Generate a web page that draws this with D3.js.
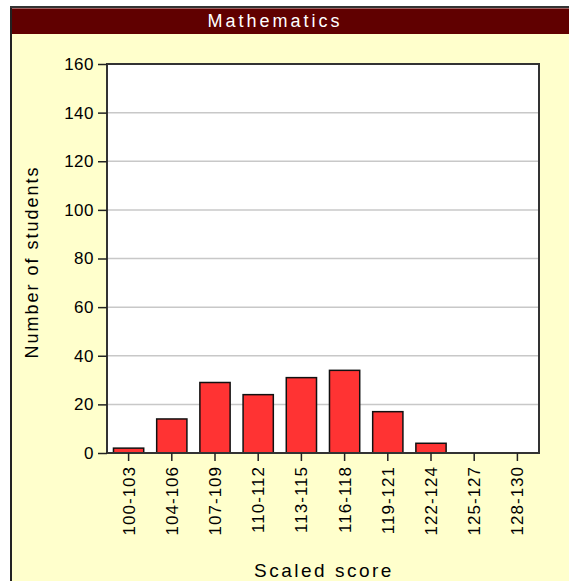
<!DOCTYPE html>
<html lang="en">
<head>
  <meta charset="UTF-8">
  <title>Mathematics</title>
  <script src="https://unpkg.com/d3@7/dist/d3.min.js"></script>
  <style>
    body { margin: 0; background: #fff; }
    text { font-family: "Liberation Sans", Arial, sans-serif; fill: #000; }
  </style>
</head>
<body>
  <svg id="chart" width="569" height="581"></svg>
  <script>
    const categories = ['100-103', '104-106', '107-109', '110-112', '113-115',
                        '116-118', '119-121', '122-124', '125-127', '128-130'];
    const counts = [2, 14, 29, 24, 31, 34, 17, 4, 0, 0];
    const yTicks = [0, 20, 40, 60, 80, 100, 120, 140, 160];

    const svg = d3.select('#chart');
    const width = +svg.attr('width'),
          height = +svg.attr('height');

    // panel background + frame
    svg.append('rect')
      .attr('x', 11).attr('y', 7)
      .attr('width', width - 11).attr('height', height - 7)
      .attr('fill', '#ffffcc');
    svg.append('line')
      .attr('x1', 11).attr('x2', 11).attr('y1', 6).attr('y2', height)
      .attr('stroke', '#222').attr('stroke-width', 2);
    svg.append('line')
      .attr('x1', 10).attr('x2', width).attr('y1', 7).attr('y2', 7)
      .attr('stroke', '#333').attr('stroke-width', 2);

    // title bar
    svg.append('rect')
      .attr('x', 12).attr('y', 8)
      .attr('width', width - 12).attr('height', 26)
      .attr('fill', '#600000');
    svg.append('line')
      .attr('x1', 12).attr('x2', width).attr('y1', 8.5).attr('y2', 8.5)
      .attr('stroke', '#a06060').attr('stroke-width', 1);
    svg.append('text')
      .attr('x', 275).attr('y', 27)
      .attr('text-anchor', 'middle')
      .style('font-size', '18px')
      .style('letter-spacing', '3px')
      .style('fill', '#fff')
      .text('Mathematics');

    const margin = {top: 64, left: 107, right: 30, bottom: 128};
    const innerW = width - margin.left - margin.right,
          innerH = height - margin.top - margin.bottom;

    const x = d3.scaleBand()
      .domain(categories)
      .range([0, innerW])
      .paddingInner(0.3)
      .paddingOuter(0.15);

    const y = d3.scaleLinear()
      .domain([0, 160])
      .range([innerH, 0]);

    const g = svg.append('g')
      .attr('transform', `translate(${margin.left}, ${margin.top})`);

    g.append('rect')
      .attr('width', innerW).attr('height', innerH)
      .attr('fill', '#fff');

    // gridlines
    g.append('g')
      .selectAll('line').data(yTicks.filter(d => d > 0 && d < 160))
      .enter().append('line')
        .attr('x1', 0).attr('x2', innerW)
        .attr('y1', d => y(d)).attr('y2', d => y(d))
        .attr('stroke', '#c8c8c8').attr('stroke-width', 1.5);

    // bars
    g.selectAll('rect.bar').data(counts)
      .enter().append('rect')
        .attr('class', 'bar')
        .attr('x', (d, i) => x(categories[i]))
        .attr('y', d => y(d))
        .attr('width', x.bandwidth())
        .attr('height', d => innerH - y(d))
        .attr('fill', '#ff3333')
        .attr('stroke', '#111')
        .attr('stroke-width', d => d > 0 ? 1.5 : 0);

    // plot frame
    g.append('rect')
      .attr('width', innerW).attr('height', innerH)
      .attr('fill', 'none')
      .attr('stroke', '#333').attr('stroke-width', 2);

    // y axis
    const yAxis = d3.axisLeft(y).tickValues(yTicks).tickSize(9).tickPadding(4);
    const yG = g.append('g').call(yAxis);
    yG.select('.domain').remove();
    yG.selectAll('.tick line').attr('stroke', '#222').attr('stroke-width', 1.5);
    yG.selectAll('.tick text').style('font-size', '17px').style('letter-spacing', '0.5px');

    // x axis
    const xAxis = d3.axisBottom(x).tickSize(8).tickPadding(6);
    const xG = g.append('g')
      .attr('transform', `translate(0, ${innerH})`)
      .call(xAxis);
    xG.select('.domain').remove();
    xG.selectAll('.tick line').attr('stroke', '#222').attr('stroke-width', 1.5);
    xG.selectAll('.tick text')
      .style('font-size', '17px')
      .style('letter-spacing', '1px')
      .attr('text-anchor', 'end')
      .attr('transform', 'rotate(-90)')
      .attr('x', -13)
      .attr('y', 0)
      .attr('dy', '0.35em');

    // axis titles
    svg.append('text')
      .attr('transform', 'translate(38, 262) rotate(-90)')
      .attr('text-anchor', 'middle')
      .style('font-size', '18px')
      .style('letter-spacing', '2px')
      .text('Number of students');

    svg.append('text')
      .attr('x', 324).attr('y', 577)
      .attr('text-anchor', 'middle')
      .style('font-size', '19px')
      .style('letter-spacing', '2.5px')
      .text('Scaled score');
  </script>
</body>
</html>
